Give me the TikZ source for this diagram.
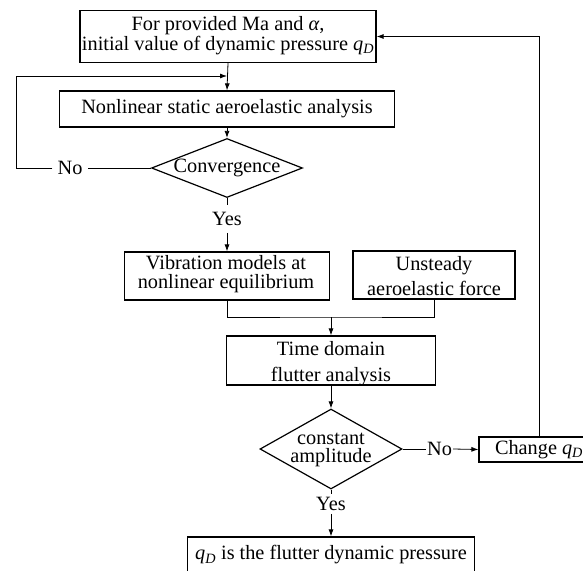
\documentclass[tikz,border=0pt]{standalone}
\usepackage{fontspec}
\setmainfont{Liberation Serif}
\usetikzlibrary{shapes.geometric,arrows.meta}
\newcommand\qDsym{\textit{q}\textsubscript{\textit{D}}}
\begin{document}
\begin{tikzpicture}[x=1pt,y=-1pt,
  every node/.style={font=\fontsize{20.3}{20}\selectfont, inner sep=0pt, align=center},
  box/.style={draw, line width=1.2pt},
  dia/.style={draw, diamond, line width=1.2pt, inner sep=0pt},
  con/.style={line width=0.8pt},
  arr/.style={con, -{Latex[length=7pt,width=5pt]}},
  lab/.style={fill=white},
  bs/.style={font=\fontsize{20.3}{#1}\selectfont}]
\useasboundingbox (0,0) rectangle (583,570);
% boxes and decisions
\node[box, minimum width=296pt, minimum height=52pt] (b1) at (228,36.5) {};
\node[bs=20] (b1t) at (228,35.3)
  {For provided Ma and \textit{α},\\initial value of dynamic pressure \qDsym};
\node[box, minimum width=335pt, minimum height=36pt] (b2) at (227,109)
  {Nonlinear static aeroelastic analysis};
\node[dia, minimum width=151pt, minimum height=59pt] (d1) at (227,168) {};
\node (d1t) at (d1) {Convergence};
\node[box, minimum width=205pt, minimum height=48pt] (b3) at (227,276) {};
\node[bs=19] (b3t) at (226,274.2) {Vibration models at\\nonlinear equilibrium};
\node[box, minimum width=162pt, minimum height=48pt] (ub) at (434,275) {};
\node[bs=25] (ubt) at (434,275.7) {Unsteady\\aeroelastic force};
\node[box, minimum width=209pt, minimum height=49pt] (b4) at (331,360.5) {};
\node[bs=26] (b4t) at (331,363.5) {Time domain\\flutter analysis};
\node[dia, minimum width=142pt, minimum height=80pt] (d2) at (331,449) {};
\node[bs=18] (d2t) at (331,450.4) {constant\\amplitude};
\node[box, minimum width=120pt, minimum height=25pt] (cb) at (539,449.5)
  {Change \qDsym};
\node[box, minimum width=287pt, minimum height=36pt] (fb) at (331,555)
  {\qDsym{} is the flutter dynamic pressure};
% labels
\node[lab, inner sep=5pt] (no1) at (70,168) {No};
\node[lab, inner sep=1pt] (no2) at (439.5,449) {No};
\node[lab, inner sep=7pt] (y1) at (227,219) {Yes};
\node[lab, inner sep=3pt] (y2) at (331,504) {Yes};
% coordinates
\coordinate (lx) at (16,168);
\coordinate (m1) at (227,76);
\coordinate (j) at (331,317);
% connectors
\draw[arr] (b1.south) -- (b2.north);
\draw[arr] (b2.south) -- (d1.north);
\draw[con] (d1.west) -- (no1.east);
\draw[arr] (no1.west) -- (lx) |- (m1);
\draw[con] (d1.south) -- (y1.north);
\draw[arr] (y1.south) -- (b3.north);
\draw[con] (b3.south) |- (j) -| (ub.south);
\draw[arr] (j) -- (b4.north);
\draw[arr] (b4.south) -- (d2.north);
\draw[con] (d2.east) -- (no2.west);
\draw[arr] (no2.east) -- (cb.west);
\draw[arr] (cb.north) |- (b1.east);
\draw[con] (d2.south) -- (y2.north);
\draw[arr] (y2.south) -- (fb.north);
\end{tikzpicture}
\end{document}
